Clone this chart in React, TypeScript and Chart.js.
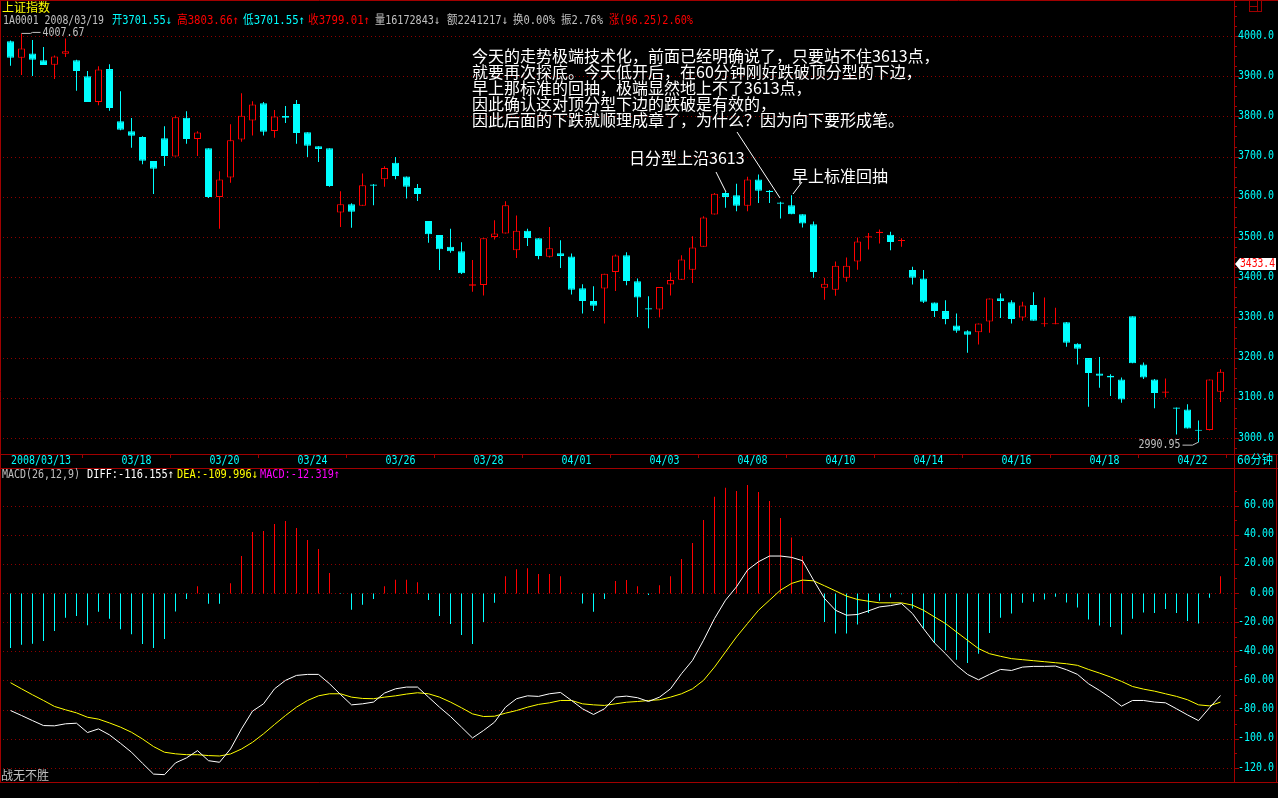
import React, { useEffect, useRef } from 'react';
import { Chart, registerables } from 'chart.js';

Chart.register(...registerables);

// ---------------- DATA ----------------
const opens = [
  3988, 3947, 3958, 3941, 3930, 3957, 3941, 3901, 3837, 3919,
  3789, 3764, 3750, 3690, 3747, 3701.55, 3798, 3745, 3722, 3601,
  3649, 3744, 3791, 3834, 3765, 3802, 3832, 3762, 3727, 3722,
  3562, 3583, 3579, 3632, 3645, 3686, 3652, 3623, 3541, 3506,
  3477, 3466, 3380, 3382, 3501, 3510, 3468, 3517, 3498, 3452,
  3461, 3453, 3374, 3342, 3373, 3414, 3456, 3391, 3324, 3321,
  3383, 3395, 3420, 3477, 3557, 3611, 3605, 3579, 3644, 3616,
  3587, 3580, 3558, 3533, 3375, 3370, 3400, 3440, 3500, 3511,
  3507, 3491, 3419, 3398, 3338, 3317, 3281, 3267, 3264, 3291,
  3349, 3339, 3301, 3332, 3284, 3284, 3289, 3236, 3200, 3162,
  3156, 3147, 3304, 3184, 3147, 3114, 3077, 3072, 3022, 3021,
  3116,
];
const highs = [
  3990, 4007.67, 3991, 3974, 3953, 3995, 3942, 3914, 3926, 3931,
  3864, 3797, 3752, 3690, 3777, 3803.66, 3814, 3764, 3722, 3665,
  3782, 3859, 3839, 3837, 3817, 3827, 3842, 3762, 3727, 3722,
  3615, 3585, 3659, 3633, 3677, 3700, 3652, 3633, 3541, 3506,
  3522, 3488, 3444, 3498, 3543, 3590, 3555, 3522, 3498, 3526,
  3493, 3460, 3384, 3379, 3410, 3458, 3463, 3398, 3354, 3377,
  3413, 3456, 3503, 3553, 3611, 3613, 3634, 3651, 3657, 3618,
  3589, 3605, 3558, 3540, 3400, 3440, 3450, 3500, 3511, 3520,
  3514, 3498, 3427, 3419, 3338, 3344, 3311, 3269, 3286, 3348,
  3361, 3344, 3340, 3364, 3351, 3325, 3290, 3237, 3200, 3203,
  3160, 3152, 3304, 3189, 3148, 3149, 3077, 3085, 3045, 3147,
  3172,
];
const lows = [
  3927, 3904, 3902, 3929, 3894, 3949, 3865, 3837, 3829, 3815,
  3767, 3723, 3682, 3608, 3678, 3701.55, 3733, 3703, 3598, 3522,
  3636, 3738, 3754, 3754, 3748, 3785, 3733, 3700, 3688, 3626,
  3526, 3524, 3579, 3580, 3626, 3645, 3597, 3591, 3487, 3419,
  3462, 3409, 3365, 3356, 3495, 3510, 3449, 3479, 3446, 3450,
  3424, 3358, 3311, 3317, 3286, 3367, 3381, 3302, 3274, 3302,
  3356, 3394, 3387, 3477, 3557, 3574, 3565, 3565, 3586, 3586,
  3547, 3558, 3525, 3400, 3345, 3355, 3390, 3420, 3470, 3485,
  3468, 3477, 3383, 3337, 3302, 3284, 3263, 3213, 3234, 3263,
  3300, 3286, 3293, 3293, 3278, 3284, 3228, 3184, 3079, 3126,
  3106, 3089, 3187, 3148, 3075, 3102, 3010, 3025, 2990.95, 3020,
  3091,
];
const closes = [
  3947, 3970, 3942, 3929, 3950, 3963, 3914, 3837, 3918, 3822,
  3768, 3753, 3691, 3671, 3703, 3799.01, 3745, 3761, 3601, 3644,
  3742, 3803, 3831, 3763, 3801, 3798, 3760, 3728, 3720, 3628,
  3583, 3564, 3630, 3629, 3673, 3653, 3626, 3608, 3508, 3471,
  3466, 3411, 3384, 3498, 3510, 3580, 3517, 3499, 3454, 3473,
  3454, 3370, 3342, 3330, 3410, 3455, 3392, 3351, 3321, 3377,
  3394, 3445, 3475, 3550, 3609, 3601, 3579, 3644, 3616, 3613,
  3584, 3558, 3535, 3414, 3385, 3430, 3430, 3490, 3503, 3514,
  3489, 3494, 3400, 3340, 3317, 3297, 3268, 3258, 3286, 3348,
  3342, 3297, 3331, 3293, 3287, 3287, 3238, 3223, 3163, 3156,
  3152, 3097, 3187, 3152, 3113, 3117, 3074, 3025, 3019, 3147,
  3166,
];

const diffLine = [
  -80.3, -83.7, -87.2, -90.6, -90.8, -89.4, -89.0, -95.4, -92.9, -97.0,
  -102.8, -108.9, -116.5, -123.9, -124.3, -116.2, -112.8, -107.8, -114.7, -115.8,
  -106.7, -92.9, -80.7, -75.7, -65.4, -59.6, -56.2, -55.5, -55.5, -61.9,
  -69.3, -76.4, -75.7, -74.5, -68.3, -65.4, -64.2, -64.2, -71.1, -78.0,
  -84.4, -91.7, -99.1, -94.0, -88.3, -78.0, -72.2, -70.2, -70.6, -68.8,
  -67.9, -73.4, -79.1, -83.0, -79.1, -71.1, -70.4, -71.5, -74.1, -71.1,
  -65.4, -55.0, -45.9, -32.1, -17.2, -4.6, 4.6, 16.1, 21.8, 25.7,
  25.7, 24.8, 22.5, 9.2, -3.4, -11.5, -14.9, -14.4, -11.9, -9.2,
  -8.3, -6.9, -13.8, -24.1, -33.9, -41.3, -49.3, -55.5, -59.2, -55.5,
  -52.1, -52.8, -50.5, -50.0, -50.0, -49.8, -52.3, -55.5, -61.9, -66.5,
  -71.6, -77.3, -73.4, -73.4, -74.5, -75.0, -79.1, -83.3, -87.2, -78.4,
  -70.0,
];
const deaLine = [
  -61.2, -65.4, -69.5, -73.4, -77.5, -79.8, -81.9, -84.9, -86.2, -88.8,
  -91.7, -95.2, -99.8, -105.0, -108.9, -110.0, -110.6, -110.6, -111.2, -111.5,
  -110.1, -106.7, -102.1, -96.3, -89.9, -83.7, -78.0, -73.4, -70.2, -68.8,
  -68.8, -71.1, -72.0, -72.2, -71.1, -70.2, -69.0, -68.1, -68.8, -71.1,
  -74.5, -78.4, -82.6, -84.4, -84.2, -82.1, -80.3, -78.0, -76.1, -75.0,
  -73.4, -73.4, -75.7, -76.4, -76.8, -75.7, -74.6, -74.1, -73.4, -72.9,
  -71.1, -68.8, -65.4, -59.6, -50.5, -40.1, -29.8, -20.6, -11.5, -4.6,
  2.3, 6.9, 9.2, 8.7, 5.3, 1.8, -1.8, -4.1, -5.3, -6.4,
  -6.4, -6.4, -8.0, -11.5, -16.1, -20.6, -26.4, -32.1, -37.8, -41.3,
  -43.1, -44.7, -45.4, -46.1, -46.8, -47.5, -48.2, -49.3, -52.1, -54.6,
  -57.3, -60.3, -63.8, -65.6, -67.0, -68.8, -70.6, -72.9, -76.4, -77.1,
  -74.5,
];
const macdHist = [
  -37.4, -35.1, -34.4, -32.6, -25.7, -16.7, -15.4, -21.8, -12.6, -17.4,
  -24.5, -28.0, -34.6, -37.4, -31.2, -12.3, -3.7, 5.0, -7.1, -7.1,
  7.1, 25.7, 42.2, 42.9, 47.7, 49.8, 45.0, 36.7, 30.5, 14.0,
  -0.3, -11.2, -7.8, -3.7, 5.0, 9.4, 9.4, 7.8, -4.4, -15.4,
  -20.9, -28.4, -34.6, -19.5, -6.4, 11.9, 16.7, 17.4, 13.3, 13.3,
  11.9, 0.7, -6.9, -12.6, -3.7, 8.5, 9.3, 5.0, -1.0, 5.7,
  11.9, 23.6, 34.6, 50.5, 66.3, 72.5, 70.4, 74.5, 69.7, 63.5,
  51.8, 38.5, 25.7, 0.2, -19.5, -27.5, -27.5, -21.3, -13.3, -5.0,
  -2.8, -0.5, -10.3, -24.1, -33.9, -39.0, -45.4, -47.7, -41.3, -27.1,
  -16.7, -13.8, -6.4, -5.7, -4.1, -2.3, -6.2, -9.6, -17.9, -22.0,
  -22.9, -28.2, -17.4, -13.1, -13.3, -10.6, -13.3, -18.8, -20.6, -3.0,
  11.9,
];

const xTickLabels = ['2008/03/13', '03/18', '03/20', '03/24', '03/26', '03/28', '04/01', '04/03', '04/08', '04/10', '04/14', '04/16', '04/18', '04/22'];
const xTickBars = [0, 11, 19, 27, 35, 43, 51, 59, 67, 75, 83, 91, 99, 107];
const priceTicks = [4000, 3900, 3800, 3700, 3600, 3500, 3400, 3300, 3200, 3100, 3000];
const priceTickLabels = ['4000.0', '3900.0', '3800.0', '3700.0', '3600.0', '3500.0', '3400.0', '3300.0', '3200.0', '3100.0', '3000.0'];
const macdTicks = [60, 40, 20, 0, -20, -40, -60, -80, -100, -120];
const macdTickLabels = ['60.00', '40.00', '20.00', '0.00', '-20.00', '-40.00', '-60.00', '-80.00', '-100.0', '-120.0'];

const noteLines = [
  '今天的走势极端技术化，前面已经明确说了，只要站不住3613点，',
  '就要再次探底。今天低开后，在60分钟刚好跌破顶分型的下边，',
  '早上那标准的回抽，极端显然地上不了3613点，',
  '因此确认这对顶分型下边的跌破是有效的，',
  '因此后面的下跌就顺理成章了，为什么？因为向下要形成笔。',
];

// ---------------- STYLE ----------------
const CYAN = '#00ffff';
const RED = '#ff0000';
const FRAME = '#a00000';
const GRID = '#8c0000';
const GRAY = '#c0c0c0';
const MONO = '12px "DejaVu Sans Mono", "Noto Sans CJK SC", monospace';
const CJK12 = '12px "Noto Sans CJK SC", "DejaVu Sans Mono", sans-serif';
const CJK16 = '16px "Noto Sans CJK SC", sans-serif';

const W = 1278;
const H = 798;

function txt(ctx: any, s: string, x: number, y: number, color: string, font: string, align: any = 'left', maxW?: number) {
  ctx.font = font;
  ctx.fillStyle = color;
  ctx.textAlign = align;
  ctx.textBaseline = 'middle';
  if (maxW) ctx.fillText(s, x, y, maxW);
  else ctx.fillText(s, x, y);
}
function seg(ctx: any, x1: number, y1: number, x2: number, y2: number) {
  ctx.beginPath();
  ctx.moveTo(x1, y1);
  ctx.lineTo(x2, y2);
  ctx.stroke();
}

const tdxPlugin = {
  id: 'tdxFrame',
  beforeDraw(chart: any) {
    const ctx = chart.ctx;
    const xs = chart.scales.x;
    const ys = chart.scales.y;
    const ys2 = chart.scales.y2;
    ctx.save();
    ctx.fillStyle = '#000';
    ctx.fillRect(0, 0, W, H);
    const left = chart.chartArea.left;
    const right = chart.chartArea.right;
    ctx.strokeStyle = GRID;
    ctx.lineWidth = 1;
    ctx.setLineDash([1, 3]);
    priceTicks.forEach((v) => {
      const py = Math.floor(ys.getPixelForValue(v)) + 0.5;
      seg(ctx, left + 1, py, right, py);
    });
    macdTicks.forEach((v) => {
      const py = Math.floor(ys2.getPixelForValue(v)) + 0.5;
      seg(ctx, left + 1, py, right, py);
    });
    ctx.restore();
  },
  afterDraw(chart: any) {
    const ctx = chart.ctx;
    const xs = chart.scales.x;
    const ys = chart.scales.y;
    const ys2 = chart.scales.y2;
    ctx.save();
    ctx.setLineDash([]);
    ctx.lineWidth = 1;
    ctx.strokeStyle = FRAME;
    // frame
    seg(ctx, 0, 0.5, W, 0.5);
    seg(ctx, 0.5, 0, 0.5, 783);
    seg(ctx, 1234.5, 0, 1234.5, 783);
    seg(ctx, 0, 454.5, W, 454.5);
    seg(ctx, 0, 468.5, W, 468.5);
    seg(ctx, 0, 782.5, W, 782.5);
    seg(ctx, 1276.5, 454, 1276.5, 783);
    // small window icon
    ctx.strokeRect(1249.5, 0.5, 12, 11);
    seg(ctx, 1257.5, 0.5, 1257.5, 11.5);
    seg(ctx, 1249.5, 6.5, 1257.5, 6.5);

    // x-axis ticks
    for (let b = 6.5; b < 111; b += 8) {
      const px = Math.round(xs.getPixelForValue(b)) + 0.5;
      seg(ctx, px, 455, px, 458);
    }
    // y-axis ticks
    priceTicks.forEach((v) => {
      const py = Math.floor(ys.getPixelForValue(v)) + 0.5;
      seg(ctx, 1235, py, 1239, py);
    });
    for (let v = 2975; v <= 4075; v += 25) {
      if (v % 100 === 0) continue;
      const py = Math.floor(ys.getPixelForValue(v)) + 0.5;
      if (py < 4 || py > 452) continue;
      seg(ctx, 1235, py, 1237, py);
    }
    macdTicks.forEach((v) => {
      const py = Math.floor(ys2.getPixelForValue(v)) + 0.5;
      seg(ctx, 1235, py, 1239, py);
    });
    for (let v = -130; v <= 80; v += 10) {
      if (v % 20 === 0) continue;
      const py = Math.floor(ys2.getPixelForValue(v)) + 0.5;
      if (py < 472 || py > 780) continue;
      seg(ctx, 1235, py, 1237, py);
    }

    // axis labels
    priceTicks.forEach((v, i) => {
      const py = ys.getPixelForValue(v) - 1;
      txt(ctx, priceTickLabels[i], 1238, py, CYAN, MONO, 'left', priceTickLabels[i].length * 6);
    });
    macdTicks.forEach((v, i) => {
      const py = ys2.getPixelForValue(v) - 1;
      txt(ctx, macdTickLabels[i], 1274, py, CYAN, MONO, 'right', macdTickLabels[i].length * 6);
    });
    xTickLabels.forEach((s, i) => {
      if (i === 0) {
        txt(ctx, s, xs.getPixelForValue(xTickBars[i]) + 0.5, 461, CYAN, MONO, 'left', s.length * 6);
      } else {
        txt(ctx, s, xs.getPixelForValue(xTickBars[i] + 0.45), 461, CYAN, MONO, 'center', s.length * 6);
      }
    });
    txt(ctx, '60分钟', 1237, 461, CYAN, MONO, 'left', 36);

    // header
    txt(ctx, '上证指数', 2, 7, '#ffff00', CJK12, 'left', 48);
    const hy = 21;
    txt(ctx, '1A0001 2008/03/19', 3, hy, GRAY, MONO, 'left', 101);
    txt(ctx, '开3701.55↓', 112, hy, CYAN, MONO, 'left', 60);
    txt(ctx, '高3803.66↑', 177, hy, RED, MONO, 'left', 62);
    txt(ctx, '低3701.55↑', 243, hy, CYAN, MONO, 'left', 62);
    txt(ctx, '收3799.01↑', 308, hy, RED, MONO, 'left', 62);
    txt(ctx, '量16172843↓', 375, hy, GRAY, MONO, 'left', 65);
    txt(ctx, '额2241217↓', 447, hy, GRAY, MONO, 'left', 61);
    txt(ctx, '换0.00%', 513, hy, GRAY, MONO, 'left', 42);
    txt(ctx, '振2.76%', 561, hy, GRAY, MONO, 'left', 42);
    txt(ctx, '涨(96.25)2.60%', 609, hy, RED, MONO, 'left', 84);

    // MACD header
    const my = 475;
    txt(ctx, 'MACD(26,12,9)', 2, my, GRAY, MONO, 'left', 78);
    txt(ctx, 'DIFF:-116.155↑', 87, my, '#ffffff', MONO, 'left', 87);
    txt(ctx, 'DEA:-109.996↓', 177, my, '#ffff00', MONO, 'left', 81);
    txt(ctx, 'MACD:-12.319↑', 260, my, '#ff00ff', MONO, 'left', 80);
    txt(ctx, '战无不胜', 1, 775.5, GRAY, CJK12, 'left', 48);

    // max / min markers
    ctx.strokeStyle = GRAY;
    const hx = xs.getPixelForValue(1);
    const hyy = ys.getPixelForValue(highs[1]);
    ctx.beginPath();
    ctx.moveTo(hx, hyy);
    ctx.lineTo(hx + 9, hyy);
    ctx.lineTo(hx + 11, hyy - 1);
    ctx.lineTo(hx + 19, hyy - 1);
    ctx.stroke();
    txt(ctx, '4007.67', hx + 21, hyy - 1, GRAY, MONO, 'left', 42);
    const lx = xs.getPixelForValue(108);
    const lyy = ys.getPixelForValue(lows[108]);
    ctx.beginPath();
    ctx.moveTo(lx, lyy);
    ctx.lineTo(lx - 6, lyy + 3);
    ctx.lineTo(lx - 16, lyy + 3);
    ctx.stroke();
    txt(ctx, '2990.95', lx - 18, lyy + 2.5, GRAY, MONO, 'right', 42);

    // price tag
    ctx.fillStyle = '#ffffff';
    ctx.beginPath();
    ctx.moveTo(1235, 264);
    ctx.lineTo(1240, 258);
    ctx.lineTo(1276, 258);
    ctx.lineTo(1276, 270);
    ctx.lineTo(1240, 270);
    ctx.closePath();
    ctx.fill();
    txt(ctx, '3433.4', 1240, 264, RED, MONO, 'left', 35);

    // annotations
    noteLines.forEach((s, i) => {
      txt(ctx, s, 472, 56 + i * 16, '#ffffff', CJK16, 'left');
    });
    txt(ctx, '日分型上沿3613', 629, 158, '#ffffff', CJK16, 'left');
    txt(ctx, '早上标准回抽', 792, 176, '#ffffff', CJK16, 'left');
    ctx.strokeStyle = '#ffffff';
    seg(ctx, 716, 172, 726, 192);
    seg(ctx, 737, 132, 780, 198);
    seg(ctx, 802, 182, 793, 194);
    ctx.restore();
  },
};

export default function App() {
  const ref = useRef<HTMLCanvasElement>(null);
  useEffect(() => {
    const idx = opens.map((_, i) => i);
    const up = idx.map((i) => closes[i] >= opens[i]);
    const xMin = -8.5 / 11;
    const xMax = 1223.5 / 11;
    // price: 4000 -> y 36.5, 0.402 px per point over 0..798
    const pMax = 4000 + 36.5 / 0.402;
    const pMin = 4000 - (798 - 36.5) / 0.402;
    // macd: 0 -> y 593.5, 1.4575 px per unit
    const mMax = 593.5 / 1.4575;
    const mMin = -(798 - 593.5) / 1.4575;
    const chart = new Chart(ref.current as HTMLCanvasElement, {
      type: 'bar',
      data: {
        datasets: [
          {
            type: 'line',
            label: 'DIFF',
            data: idx.map((i) => ({ x: i, y: diffLine[i] })),
            borderColor: '#ffffff',
            borderWidth: 1,
            pointRadius: 0,
            tension: 0,
            yAxisID: 'y2',
            order: 0,
          } as any,
          {
            type: 'line',
            label: 'DEA',
            data: idx.map((i) => ({ x: i, y: deaLine[i] })),
            borderColor: '#ffff00',
            borderWidth: 1,
            pointRadius: 0,
            tension: 0,
            yAxisID: 'y2',
            order: 0,
          } as any,
          {
            label: 'body',
            data: idx.map((i) => ({ x: i, y: [opens[i], closes[i]] })),
            backgroundColor: up.map((u) => (u ? '#000000' : CYAN)),
            borderColor: up.map((u) => (u ? RED : CYAN)),
            borderWidth: 1,
            borderSkipped: false,
            barThickness: 7,
            minBarLength: 1,
            inflateAmount: 0,
            grouped: false,
            yAxisID: 'y',
            order: 1,
          } as any,
          {
            label: 'wick',
            data: idx.map((i) => ({ x: i, y: [lows[i], highs[i]] })),
            backgroundColor: up.map((u) => (u ? RED : CYAN)),
            borderWidth: 0,
            barThickness: 1,
            inflateAmount: 0,
            grouped: false,
            yAxisID: 'y',
            order: 2,
          } as any,
          {
            label: 'MACD',
            data: idx.map((i) => ({ x: i, y: [0, macdHist[i]] })),
            backgroundColor: macdHist.map((v) => (v >= 0 ? RED : CYAN)),
            borderWidth: 0,
            barThickness: 1,
            inflateAmount: 0,
            grouped: false,
            yAxisID: 'y2',
            order: 3,
          } as any,
        ],
      },
      options: {
        responsive: false,
        animation: false,
        devicePixelRatio: 1,
        layout: { padding: { left: 2, right: 44, top: 0, bottom: 0 } },
        plugins: { legend: { display: false }, tooltip: { enabled: false } },
        events: [],
        scales: {
          x: { type: 'linear', display: false, min: xMin, max: xMax, offset: false },
          y: { type: 'linear', display: false, min: pMin, max: pMax },
          y2: { type: 'linear', display: false, min: mMin, max: mMax },
        },
      } as any,
      plugins: [tdxPlugin as any],
    });
    return () => chart.destroy();
  }, []);
  return (
    <div style={{ position: 'fixed', left: 0, top: 0, width: W, height: H, background: '#000' }}>
      <canvas ref={ref} width={W} height={H} style={{ display: 'block', width: W, height: H }} />
    </div>
  );
}
